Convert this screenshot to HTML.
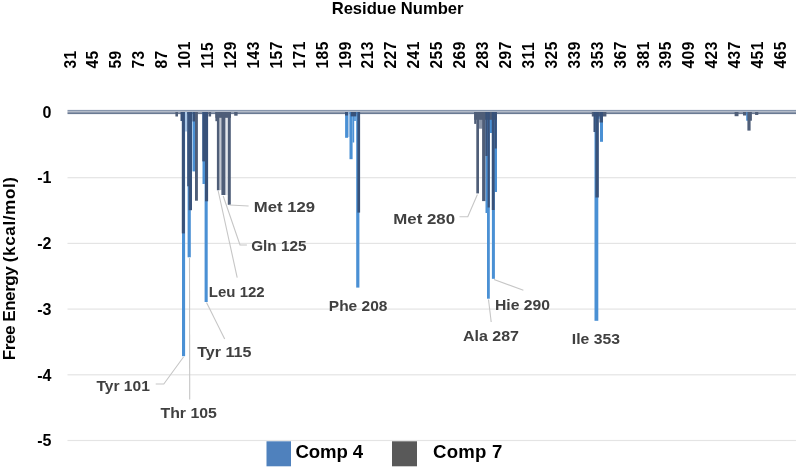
<!DOCTYPE html>
<html><head><meta charset="utf-8"><style>
html,body{margin:0;padding:0;background:#fff;}
body{width:796px;height:468px;overflow:hidden;position:relative;}
svg{position:absolute;left:0;top:0;filter:blur(0.45px);}
text{font-family:"Liberation Sans",sans-serif;font-weight:bold;}
</style></head><body>
<svg width="796" height="468" viewBox="0 0 796 468">

<rect x="67.5" y="177.10" width="729" height="1.2" fill="#e4e4e4"/>
<rect x="67.5" y="242.80" width="729" height="1.2" fill="#e4e4e4"/>
<rect x="67.5" y="308.50" width="729" height="1.2" fill="#e4e4e4"/>
<rect x="67.5" y="374.20" width="729" height="1.2" fill="#e4e4e4"/>
<rect x="67.5" y="439.90" width="729" height="1.2" fill="#e4e4e4"/>
<rect x="67.5" y="109.9" width="728.5" height="1.4" fill="#8796ad"/>
<rect x="67.5" y="111.3" width="728.5" height="1.0" fill="#a3adbd"/>
<rect x="67.5" y="112.3" width="728.5" height="1.8" fill="#6a7a93"/>
<rect x="182.0" y="112" width="3.10" height="244.20" fill="#4a90d4"/>
<rect x="187.6" y="112" width="3.20" height="145.30" fill="#4a90d4"/>
<rect x="204.6" y="112" width="3.10" height="190.00" fill="#4a90d4"/>
<rect x="202.5" y="112" width="3.00" height="72.00" fill="#4a90d4"/>
<rect x="192.5" y="112" width="3.00" height="59.40" fill="#4a90d4"/>
<rect x="184.8" y="112" width="2.20" height="19.50" fill="#a9c6e6"/>
<rect x="219.3" y="112" width="2.30" height="78.00" fill="#c3c8d1"/>
<rect x="225.4" y="112" width="2.20" height="83.00" fill="#e3e6eb"/>
<rect x="175.4" y="112" width="2.60" height="4.50" fill="#4f5e78"/>
<rect x="180.5" y="112" width="2.00" height="9.00" fill="#38527a"/>
<rect x="181.8" y="112" width="3.10" height="121.40" fill="#38527a"/>
<rect x="187.2" y="112" width="1.70" height="74.30" fill="#38527a"/>
<rect x="188.6" y="112" width="3.40" height="98.20" fill="#38527a"/>
<rect x="192.5" y="112" width="2.50" height="9.50" fill="#38527a"/>
<rect x="195.0" y="112" width="2.90" height="88.70" fill="#4f5e78"/>
<rect x="202.3" y="112" width="2.70" height="49.40" fill="#38527a"/>
<rect x="205.0" y="112" width="3.10" height="89.30" fill="#38527a"/>
<rect x="208.5" y="112" width="2.60" height="4.50" fill="#4f5e78"/>
<rect x="215.4" y="112" width="15.60" height="5.80" fill="#4f5e78"/>
<rect x="215.4" y="112" width="1.80" height="9.20" fill="#4f5e78"/>
<rect x="216.9" y="112" width="2.50" height="78.30" fill="#4f5e78"/>
<rect x="221.4" y="112" width="4.00" height="83.00" fill="#4f5e78"/>
<rect x="227.8" y="112" width="3.00" height="92.80" fill="#4f5e78"/>
<rect x="234.2" y="112" width="3.40" height="3.70" fill="#4f5e78"/>
<rect x="345.1" y="112" width="3.00" height="25.80" fill="#4a90d4"/>
<rect x="348.1" y="112" width="1.40" height="25.00" fill="#a9c6e6"/>
<rect x="349.5" y="112" width="3.10" height="47.20" fill="#4a90d4"/>
<rect x="352.6" y="112" width="1.60" height="30.50" fill="#4a90d4"/>
<rect x="354.2" y="112" width="1.60" height="9.00" fill="#4a90d4"/>
<rect x="356.2" y="112" width="3.20" height="175.60" fill="#4a90d4"/>
<rect x="345.0" y="112" width="3.10" height="3.50" fill="#38527a"/>
<rect x="350.7" y="112" width="5.60" height="4.40" fill="#38527a"/>
<rect x="357.4" y="112" width="2.70" height="100.60" fill="#38527a"/>
<rect x="485.5" y="112" width="3.00" height="101.00" fill="#4a90d4"/>
<rect x="487.0" y="112" width="2.80" height="186.70" fill="#4a90d4"/>
<rect x="490.0" y="112" width="2.00" height="21.00" fill="#4a90d4"/>
<rect x="491.9" y="112" width="3.00" height="166.80" fill="#4a90d4"/>
<rect x="494.6" y="112" width="2.40" height="80.00" fill="#4a90d4"/>
<rect x="478.9" y="112" width="3.40" height="16.70" fill="#8a96aa"/>
<rect x="474.2" y="112" width="22.80" height="7.80" fill="#4f5e78"/>
<rect x="474.2" y="112" width="2.10" height="11.90" fill="#4f5e78"/>
<rect x="476.3" y="112" width="2.70" height="81.40" fill="#4f5e78"/>
<rect x="482.1" y="112" width="3.30" height="89.10" fill="#4f5e78"/>
<rect x="485.4" y="112" width="2.20" height="44.00" fill="#38527a"/>
<rect x="487.6" y="112" width="2.20" height="95.50" fill="#38527a"/>
<rect x="491.8" y="112" width="2.80" height="98.00" fill="#38527a"/>
<rect x="494.6" y="112" width="2.20" height="36.50" fill="#38527a"/>
<rect x="594.5" y="112" width="3.80" height="208.80" fill="#4a90d4"/>
<rect x="597.8" y="112" width="1.80" height="6.70" fill="#4a90d4"/>
<rect x="600.0" y="112" width="3.00" height="29.80" fill="#4a90d4"/>
<rect x="591.8" y="112" width="14.60" height="4.50" fill="#4f5e78"/>
<rect x="593.5" y="112" width="2.00" height="20.00" fill="#38527a"/>
<rect x="595.4" y="112" width="3.40" height="85.50" fill="#38527a"/>
<rect x="599.5" y="112" width="3.50" height="10.50" fill="#38527a"/>
<rect x="746.2" y="112" width="2.80" height="8.70" fill="#4a90d4"/>
<rect x="734.6" y="112" width="3.90" height="4.20" fill="#4f5e78"/>
<rect x="743.0" y="112" width="3.20" height="3.50" fill="#4f5e78"/>
<rect x="749.0" y="112" width="2.90" height="8.70" fill="#4f5e78"/>
<rect x="747.4" y="112" width="3.20" height="18.60" fill="#4f5e78"/>
<rect x="755.1" y="112" width="3.20" height="3.00" fill="#4f5e78"/>
<polyline points="183.5,357 163.8,384 155.7,384" fill="none" stroke="#c6c6c6" stroke-width="1.1"/>
<polyline points="189.5,258 189.7,399.5" fill="none" stroke="#c6c6c6" stroke-width="1.1"/>
<polyline points="206.5,302.5 224.7,339" fill="none" stroke="#c6c6c6" stroke-width="1.1"/>
<polyline points="218.2,191 237.2,277.6" fill="none" stroke="#c6c6c6" stroke-width="1.1"/>
<polyline points="223.2,196 240,245 246.9,245" fill="none" stroke="#c6c6c6" stroke-width="1.1"/>
<polyline points="229.5,205 248.6,206" fill="none" stroke="#c6c6c6" stroke-width="1.1"/>
<polyline points="477.4,194.5 467.8,216.7 459.5,216.7" fill="none" stroke="#c6c6c6" stroke-width="1.1"/>
<polyline points="488.5,299.5 491.2,322" fill="none" stroke="#c6c6c6" stroke-width="1.1"/>
<polyline points="494,279.5 523.4,290.2" fill="none" stroke="#c6c6c6" stroke-width="1.1"/>
<text x="397.6" y="14.2" font-size="16.6" text-anchor="middle" fill="#000">Residue Number</text>
<text transform="translate(75.50,68.5) rotate(-90)" font-size="15.6" letter-spacing="0.45" fill="#000">31</text>
<text transform="translate(98.42,68.5) rotate(-90)" font-size="15.6" letter-spacing="0.45" fill="#000">45</text>
<text transform="translate(121.34,68.5) rotate(-90)" font-size="15.6" letter-spacing="0.45" fill="#000">59</text>
<text transform="translate(144.26,68.5) rotate(-90)" font-size="15.6" letter-spacing="0.45" fill="#000">73</text>
<text transform="translate(167.18,68.5) rotate(-90)" font-size="15.6" letter-spacing="0.45" fill="#000">87</text>
<text transform="translate(190.10,68.5) rotate(-90)" font-size="15.6" letter-spacing="0.45" fill="#000">101</text>
<text transform="translate(213.02,68.5) rotate(-90)" font-size="15.6" letter-spacing="0.45" fill="#000">115</text>
<text transform="translate(235.94,68.5) rotate(-90)" font-size="15.6" letter-spacing="0.45" fill="#000">129</text>
<text transform="translate(258.86,68.5) rotate(-90)" font-size="15.6" letter-spacing="0.45" fill="#000">143</text>
<text transform="translate(281.78,68.5) rotate(-90)" font-size="15.6" letter-spacing="0.45" fill="#000">157</text>
<text transform="translate(304.70,68.5) rotate(-90)" font-size="15.6" letter-spacing="0.45" fill="#000">171</text>
<text transform="translate(327.62,68.5) rotate(-90)" font-size="15.6" letter-spacing="0.45" fill="#000">185</text>
<text transform="translate(350.54,68.5) rotate(-90)" font-size="15.6" letter-spacing="0.45" fill="#000">199</text>
<text transform="translate(373.46,68.5) rotate(-90)" font-size="15.6" letter-spacing="0.45" fill="#000">213</text>
<text transform="translate(396.38,68.5) rotate(-90)" font-size="15.6" letter-spacing="0.45" fill="#000">227</text>
<text transform="translate(419.30,68.5) rotate(-90)" font-size="15.6" letter-spacing="0.45" fill="#000">241</text>
<text transform="translate(442.22,68.5) rotate(-90)" font-size="15.6" letter-spacing="0.45" fill="#000">255</text>
<text transform="translate(465.14,68.5) rotate(-90)" font-size="15.6" letter-spacing="0.45" fill="#000">269</text>
<text transform="translate(488.06,68.5) rotate(-90)" font-size="15.6" letter-spacing="0.45" fill="#000">283</text>
<text transform="translate(510.98,68.5) rotate(-90)" font-size="15.6" letter-spacing="0.45" fill="#000">297</text>
<text transform="translate(533.90,68.5) rotate(-90)" font-size="15.6" letter-spacing="0.45" fill="#000">311</text>
<text transform="translate(556.82,68.5) rotate(-90)" font-size="15.6" letter-spacing="0.45" fill="#000">325</text>
<text transform="translate(579.74,68.5) rotate(-90)" font-size="15.6" letter-spacing="0.45" fill="#000">339</text>
<text transform="translate(602.66,68.5) rotate(-90)" font-size="15.6" letter-spacing="0.45" fill="#000">353</text>
<text transform="translate(625.58,68.5) rotate(-90)" font-size="15.6" letter-spacing="0.45" fill="#000">367</text>
<text transform="translate(648.50,68.5) rotate(-90)" font-size="15.6" letter-spacing="0.45" fill="#000">381</text>
<text transform="translate(671.42,68.5) rotate(-90)" font-size="15.6" letter-spacing="0.45" fill="#000">395</text>
<text transform="translate(694.34,68.5) rotate(-90)" font-size="15.6" letter-spacing="0.45" fill="#000">409</text>
<text transform="translate(717.26,68.5) rotate(-90)" font-size="15.6" letter-spacing="0.45" fill="#000">423</text>
<text transform="translate(740.18,68.5) rotate(-90)" font-size="15.6" letter-spacing="0.45" fill="#000">437</text>
<text transform="translate(763.10,68.5) rotate(-90)" font-size="15.6" letter-spacing="0.45" fill="#000">451</text>
<text transform="translate(786.02,68.5) rotate(-90)" font-size="15.6" letter-spacing="0.45" fill="#000">465</text>
<text x="51.4" y="117.70" font-size="16" text-anchor="end" fill="#000">0</text>
<text x="51.4" y="183.40" font-size="16" text-anchor="end" fill="#000">-1</text>
<text x="51.4" y="249.10" font-size="16" text-anchor="end" fill="#000">-2</text>
<text x="51.4" y="314.80" font-size="16" text-anchor="end" fill="#000">-3</text>
<text x="51.4" y="380.50" font-size="16" text-anchor="end" fill="#000">-4</text>
<text x="51.4" y="446.20" font-size="16" text-anchor="end" fill="#000">-5</text>
<text transform="translate(15,360.2) rotate(-90)" font-size="17.1" fill="#000" textLength="94">Free Energy</text>
<text transform="translate(15,262.2) rotate(-90)" font-size="17.1" fill="#000" textLength="85.2">(kcal/mol)</text>
<text x="96.40" y="390.9" font-size="15.4" fill="#404040" textLength="53.50" lengthAdjust="spacingAndGlyphs">Tyr 101</text>
<text x="160.50" y="418.4" font-size="15.4" fill="#404040" textLength="56.40" lengthAdjust="spacingAndGlyphs">Thr 105</text>
<text x="197.20" y="357.2" font-size="15.4" fill="#404040" textLength="54.20" lengthAdjust="spacingAndGlyphs">Tyr 115</text>
<text x="208.80" y="297.2" font-size="15.4" fill="#404040" textLength="55.90" lengthAdjust="spacingAndGlyphs">Leu 122</text>
<text x="251.20" y="251.0" font-size="15.4" fill="#404040" textLength="55.30" lengthAdjust="spacingAndGlyphs">Gln 125</text>
<text x="253.80" y="212.1" font-size="15.4" fill="#404040" textLength="61.20" lengthAdjust="spacingAndGlyphs">Met 129</text>
<text x="328.80" y="311.1" font-size="15.4" fill="#404040" textLength="58.60" lengthAdjust="spacingAndGlyphs">Phe 208</text>
<text x="393.30" y="223.5" font-size="15.4" fill="#404040" textLength="61.70" lengthAdjust="spacingAndGlyphs">Met 280</text>
<text x="495.00" y="309.8" font-size="15.4" fill="#404040" textLength="55.00" lengthAdjust="spacingAndGlyphs">Hie 290</text>
<text x="463.00" y="341.3" font-size="15.4" fill="#404040" textLength="56.00" lengthAdjust="spacingAndGlyphs">Ala 287</text>
<text x="571.80" y="343.8" font-size="15.4" fill="#404040" textLength="48.20" lengthAdjust="spacingAndGlyphs">Ile 353</text>
<rect x="266.5" y="441.3" width="24.5" height="25" fill="#4f81bd"/>
<text x="295.4" y="458.0" font-size="18.6" fill="#000" textLength="67.8">Comp 4</text>
<rect x="392" y="441.3" width="25" height="25" fill="#595959"/>
<text x="433.0" y="457.8" font-size="18.6" fill="#000" textLength="69.4">Comp 7</text>
</svg>
</body></html>
